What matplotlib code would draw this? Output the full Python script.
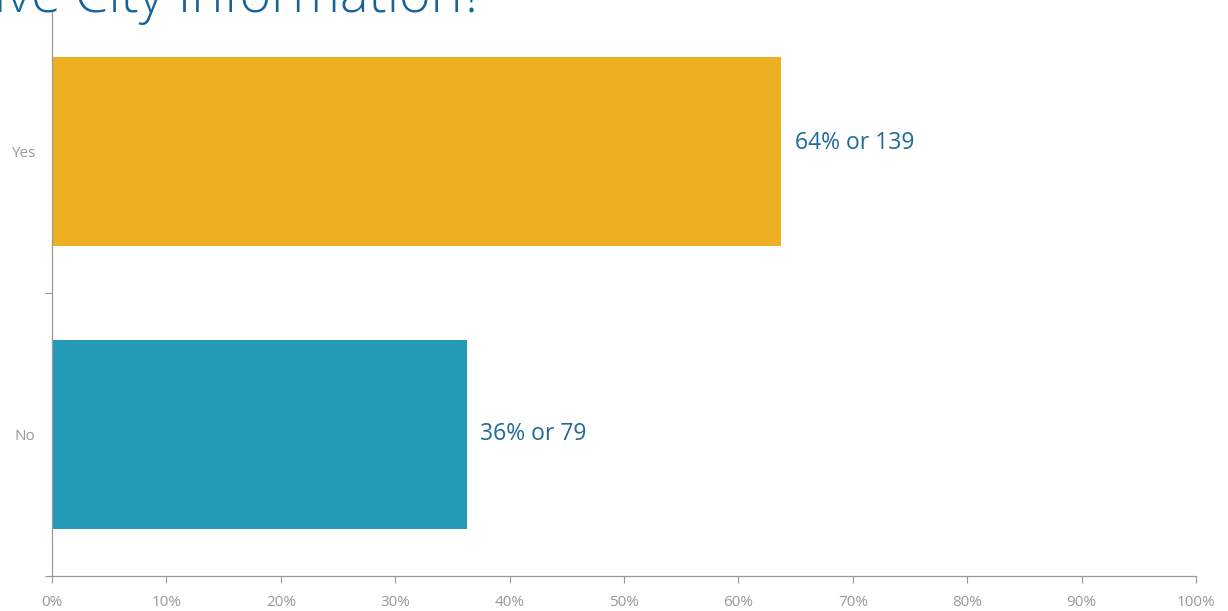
import matplotlib
matplotlib.use('Agg')
import matplotlib.pyplot as plt
from matplotlib.ticker import FixedLocator, PercentFormatter

answers = ['No', 'Yes']
counts = [79, 139]
bar_colors = ['#259ab8', '#edb022']
x_ticks = [0, 10, 20, 30, 40, 50, 60, 70, 80, 90, 100]
title = 'Do you receive City Information?'

total = sum(counts)
shares = [100 * c / total for c in counts]

plt.rcParams['font.family'] = ['Open Sans', 'DejaVu Sans']

fig = plt.figure(figsize=(12.28, 6.11), dpi=100)
ax = fig.add_axes([52 / 1228, 35 / 611, 1144 / 1228, 566 / 611])

pos = list(range(len(answers)))
ax.barh(pos, shares, height=0.667, color=bar_colors)

for p, s, c in zip(pos, shares, counts):
    ax.text(s + 1.2, p + 0.03 * p, f'{round(s)}% or {c}', va='center', ha='left',
            fontsize=16.5, color='#1f6a99')

ax.set_xlim(0, 100)
ax.set_ylim(-0.5, len(answers) - 0.5)

ax.xaxis.set_major_locator(FixedLocator(x_ticks))
ax.xaxis.set_major_formatter(PercentFormatter(decimals=0))
ax.tick_params(axis='x', length=5, color='#999999', labelcolor='#999999',
               labelsize=11, pad=9)

# category borders get tick marks, category names sit between them
ax.yaxis.set_major_locator(FixedLocator([-0.5, 0.5, 1.5]))
ax.yaxis.set_major_formatter(plt.NullFormatter())
ax.yaxis.set_minor_locator(FixedLocator(pos))
ax.set_yticklabels(answers, minor=True)
ax.tick_params(axis='y', which='major', length=5, color='#999999')
ax.tick_params(axis='y', which='minor', length=0, labelcolor='#999999',
               labelsize=11, pad=12)

for side in ['top', 'right']:
    ax.spines[side].set_visible(False)
for side in ['left', 'bottom']:
    ax.spines[side].set_color('#999999')
    ax.spines[side].set_linewidth(0.9)

fig.text(485 / 1228, 1 - 12 / 611, title, ha='right', va='baseline',
         fontsize=39, fontweight='light', color='#16639a')

fig.savefig('out.png', dpi=100)
